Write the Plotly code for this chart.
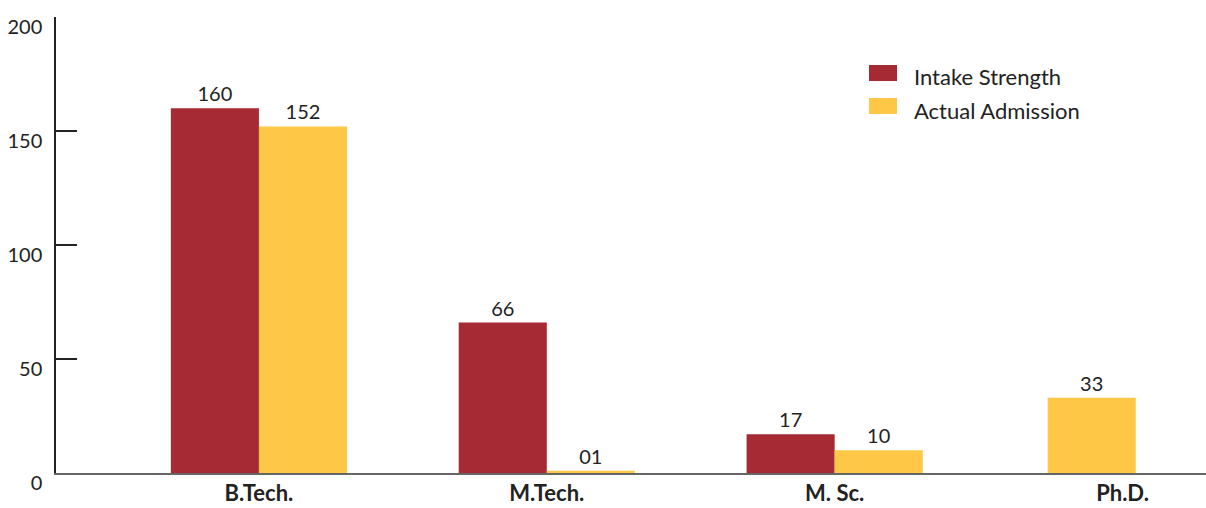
import plotly.graph_objects as go

# Programme-wise intake vs. admission
programmes = ["B.Tech.", "M.Tech.", "M. Sc.", "Ph.D."]
intake_strength = [160, 66, 17, None]
actual_admission = [152, 1, 10, 33]
series_names = ["Intake Strength", "Actual Admission"]
y_ticks = [0, 50, 100, 150, 200]

RED = "#A52A33"
YELLOW = "#FEC745"
FONT = "Lato, 'Open Sans', sans-serif"
BAR_W = 0.306

# Admission bars sit right of the intake bar; pulled left when no intake exists
adm_offsets = [0 if v is not None else -0.85 * BAR_W for v in intake_strength]

fig = go.Figure()
fig.add_trace(go.Bar(
    x=programmes, y=intake_strength, name=series_names[0],
    marker=dict(color=RED, line=dict(width=0)),
    width=BAR_W, offset=-BAR_W,
    texttemplate="%{y:02d}", textposition="outside",
    textfont=dict(family=FONT, size=20, color="#222"),
    cliponaxis=False, showlegend=False,
))
fig.add_trace(go.Bar(
    x=programmes, y=actual_admission, name=series_names[1],
    marker=dict(color=YELLOW, line=dict(width=0)),
    width=BAR_W, offset=adm_offsets,
    texttemplate="%{y:02d}", textposition="outside",
    textfont=dict(family=FONT, size=20, color="#222"),
    cliponaxis=False, showlegend=False,
))

# Legend drawn as swatches plus labels
W, H = 1150, 456
def px_x(p):
    return (p - 56) / W
def px_y(p):
    return (473 - p) / H

for i, (name, col) in enumerate(zip(series_names, [RED, YELLOW])):
    top = 65 + i * 33
    fig.add_shape(type="rect", xref="paper", yref="paper",
                  x0=px_x(869), x1=px_x(897), y0=px_y(top + 16), y1=px_y(top),
                  fillcolor=col, line=dict(width=0))
    fig.add_annotation(xref="paper", yref="paper", x=px_x(912), y=px_y(top + 12),
                       text=name, showarrow=False, xanchor="left", yanchor="middle",
                       font=dict(family=FONT, size=22, color="#222"))

fig.update_layout(
    width=1206, height=508,
    margin=dict(l=56, r=0, t=17, b=35, autoexpand=False),
    barmode="overlay",
    plot_bgcolor="white", paper_bgcolor="white",
    font=dict(family=FONT, color="#222"),
    xaxis=dict(
        type="category", range=[-0.705, 3.29], automargin=False,
        showgrid=False, zeroline=False,
        showline=True, linecolor="#666", linewidth=2,
        ticks="", ticklabelstandoff=0,
        tickfont=dict(family=FONT, size=22, color="#222", weight="bold"),
    ),
    yaxis=dict(
        range=[0, 200], tickvals=y_ticks, automargin=False,
        showgrid=False, zeroline=False,
        showline=True, linecolor="#222", linewidth=1.5,
        ticks="inside", ticklen=21, tickcolor="#222", tickwidth=1.5,
        ticklabelshift=10, ticklabelstandoff=8,
        tickfont=dict(family=FONT, size=20, color="#222"),
    ),
)

fig.write_html("out.html")
